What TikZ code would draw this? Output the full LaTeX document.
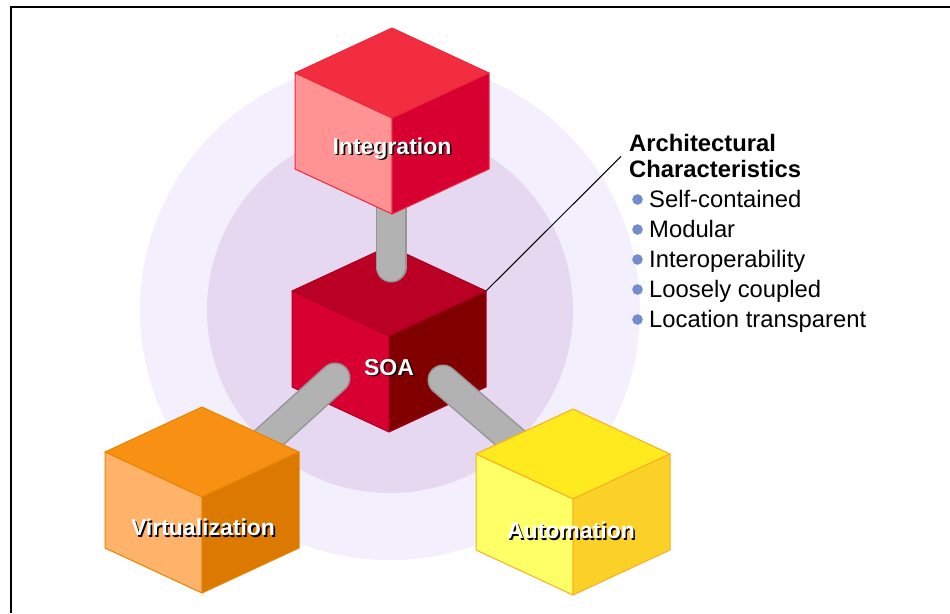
\documentclass[tikz,border=0pt]{standalone}
\usepackage{fontspec}
\setmainfont{Liberation Sans}
\definecolor{outerring}{RGB}{243,239,252}
\definecolor{innerring}{RGB}{229,216,240}
\definecolor{rodgray}{RGB}{178,178,178}
\definecolor{rodedge}{RGB}{150,150,150}
\definecolor{bulletblue}{RGB}{115,140,205}
\definecolor{integtop}{RGB}{242,45,63}
\definecolor{integleft}{RGB}{255,146,146}
\definecolor{integright}{RGB}{216,0,48}
\definecolor{integedge}{RGB}{236,40,60}
\definecolor{soatop}{RGB}{186,0,36}
\definecolor{soaleft}{RGB}{216,0,48}
\definecolor{soaright}{RGB}{128,0,0}
\definecolor{soaedge}{RGB}{170,0,32}
\definecolor{virttop}{RGB}{248,144,20}
\definecolor{virtleft}{RGB}{255,178,105}
\definecolor{virtright}{RGB}{219,121,0}
\definecolor{virtedge}{RGB}{232,132,0}
\definecolor{autotop}{RGB}{255,234,32}
\definecolor{autoleft}{RGB}{255,255,102}
\definecolor{autoright}{RGB}{252,209,39}
\definecolor{autoedge}{RGB}{248,176,32}

\tikzset{cubeline/.style={line width=1pt,line join=round}}

% isometric cube: front top corner (#1,#2), top/left/right fill, edge colour
\newcommand{\isocube}[6]{%
  \filldraw[draw=#6,fill=#3,cubeline] (#1,#2) -- ++(-97,-45) -- ++(97,-45) -- ++(97,45) -- cycle;
  \filldraw[draw=#6,fill=#4,cubeline] (#1,#2) -- ++(-97,-45) -- ++(0,96) -- ++(97,45) -- cycle;
  \filldraw[draw=#6,fill=#5,cubeline] (#1,#2) -- ++(97,-45) -- ++(0,96) -- ++(-97,45) -- cycle;}
\newcommand{\shadowtext}[1]{\rlap{\kern1.6pt\raisebox{-1.6pt}{\textcolor{black}{#1}}}#1}

\begin{document}
\begin{tikzpicture}[x=1pt,y=-1pt]
  \tikzstyle{cubelabel}=[text=white,inner sep=0pt,font=\fontsize{23}{26}\selectfont\bfseries]
  \tikzstyle{rod}=[draw=rodedge,line width=1.5pt,double=rodgray,double distance=28pt,line cap=round]
  \tikzstyle{item}=[anchor=base west,inner sep=0pt,font=\fontsize{23.8}{26}\selectfont]
  \fill[white] (0,0) rectangle (950,613);
  \useasboundingbox (0,0) rectangle (950,613);
  \draw[line width=2pt] (11,613) -- (11,7) -- (950,7);
  \fill[outerring] (390,310) circle (250);
  \fill[innerring] (390,310) circle (183);

  \isocube{389}{336}{soatop}{soaleft}{soaright}{soaedge}
  \coordinate (soa-rt) at (486,291);

  % rods, from the SOA cube to the back of the outer cubes
  \coordinate (rod-top) at (391,267);
  \coordinate (rod-left) at (335,378);
  \coordinate (rod-right) at (443,380);
  \coordinate (integ-back) at (391,185);
  \coordinate (virt-back) at (250,455);
  \coordinate (auto-back) at (530,455);
  \draw[rod] (rod-top) -- (integ-back);
  \draw[rod] (rod-left) -- (virt-back);
  \draw[rod] (rod-right) -- (auto-back);

  \isocube{392}{118}{integtop}{integleft}{integright}{integedge}
  \isocube{202}{497}{virttop}{virtleft}{virtright}{virtedge}
  \isocube{573}{499}{autotop}{autoleft}{autoright}{autoedge}

  \node[cubelabel] (integ) at (392,149) {\shadowtext{Integration}};
  \node[cubelabel] (soa) at (389,368) {\shadowtext{SOA}};
  \node[cubelabel] (virt) at (203,528) {\shadowtext{Virtualization}};
  \node[cubelabel] (auto) at (571,531) {\shadowtext{Automation}};

  \node[anchor=north west,inner sep=0pt,align=left,font=\fontsize{23.8}{26}\selectfont\bfseries]
    (heading) at (629,134.5) {Architectural\\Characteristics};
  \node[item] (selfc) at (649,207) {Self-contained};
  \node[item] (modular) at (649,237) {Modular};
  \node[item] (interop) at (649,267) {Interoperability};
  \node[item] (loose) at (649,297) {Loosely coupled};
  \node[item] (locat) at (649,327) {Location transparent};
  \foreach \n in {selfc,modular,interop,loose,locat}
    \fill[bulletblue] ([xshift=-11.5pt,yshift=7.5pt]\n.base west) circle (5.3pt);

  \draw[line width=1pt] (soa-rt) -- ([xshift=-8pt]heading.west);
\end{tikzpicture}
\end{document}
